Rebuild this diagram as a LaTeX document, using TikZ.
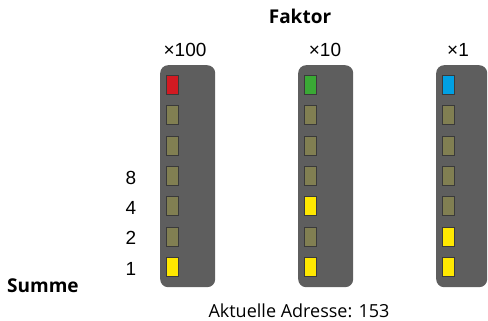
\documentclass[tikz,border=0pt]{standalone}
\usepackage{fontspec}
\setmainfont{Open Sans}
\newfontfamily\numfont{Liberation Sans}
\usetikzlibrary{positioning}

\definecolor{panelgray}{HTML}{5E5E5E}
\definecolor{ledoff}{HTML}{817F52}
\definecolor{ledborder}{HTML}{3A3A3A}
\definecolor{ledyellow}{HTML}{FFE800}
\definecolor{ledred}{HTML}{D21A22}
\definecolor{ledgreen}{HTML}{3AA935}
\definecolor{ledblue}{HTML}{00A0E3}

\tikzset{
  panel/.style={fill=panelgray, rounded corners=8pt, minimum height=222pt, inner sep=0pt, anchor=north west},
  led/.style={draw=ledborder, line width=0.8pt, minimum width=12pt, minimum height=19pt, inner sep=0pt},
  off/.style={led, fill=ledoff},
  on/.style={led, fill=ledyellow},
  numlabel/.style={font=\numfont\fontsize{19}{22}\selectfont, anchor=base},
  title/.style={font=\bfseries\fontsize{19}{22}\selectfont, anchor=base},
}

\begin{document}
\begin{tikzpicture}[x=1pt, y=-1pt]
		\useasboundingbox (0,0) rectangle (488,321);

		% Panels
		\node[panel, minimum width=55pt] (hundreds) at (160,65) {};
		\node[panel, minimum width=55pt] (tens) at (298,65) {};
		\node[panel, minimum width=51pt] (ones) at (436,65) {};

		% Top LEDs (factor indicators)
		\node[led, fill=ledred] (h0) at (172.5,85) {};
		\node[led, fill=ledgreen] (t0) at (310.5,85) {};
		\node[led, fill=ledblue] (o0) at (448,85) {};

		% Bit LEDs: 100 -> 1, 10 -> 5, 1 -> 3
		\foreach \i/\h/\t/\o in {1/off/off/off, 2/off/off/off, 3/off/off/off,
		                        4/off/on/off, 5/off/off/on, 6/on/on/on} {
			\node[\h] (h\i) at (172.5,85+30.3*\i) {};
			\node[\t] (t\i) at (310.5,85+30.3*\i) {};
			\node[\o] (o\i) at (448,85+30.3*\i) {};
		}

		% Labels
		\node[title] (faktor) at (300,24) {Faktor};
		\node[numlabel] (xhundred) at (185,57) {×100};
		\node[numlabel] (xten) at (325,57) {×10};
		\node[numlabel] (xone) at (458,57) {×1};

		\node[numlabel] (w8) at (131,185) {8};
		\node[numlabel] (w4) at (131,214) {4};
		\node[numlabel] (w2) at (131,244) {2};
		\node[numlabel] (w1) at (131,275) {1};

		\node[title, anchor=base west, inner sep=0pt] (summe) at (7,292) {Summe};
		\node[anchor=base, font=\fontsize{18}{22}\selectfont] (adresse) at (299,317) {Aktuelle Adresse: 153};

	\end{tikzpicture}
\end{document}
